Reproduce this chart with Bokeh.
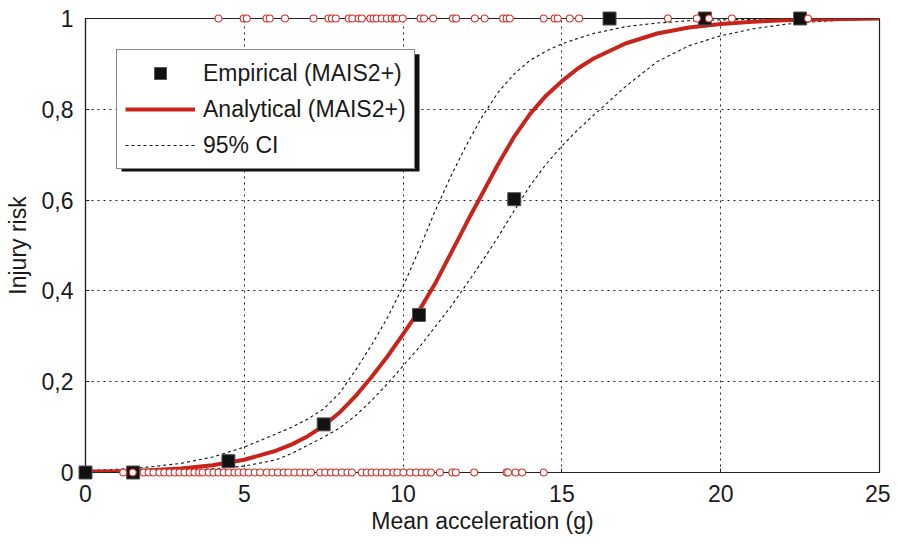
from bokeh.plotting import figure
from bokeh.models import Range1d, FixedTicker, Legend, LegendItem, BoxAnnotation
from bokeh.embed import file_html
from bokeh.resources import INLINE

# ---------------- data ----------------
emp_x = [0, 1.5, 4.5, 7.5, 10.5, 13.5, 16.5, 19.5, 22.5]
emp_y = [0.0, 0.0, 0.025, 0.106, 0.347, 0.602, 1.0, 1.0, 1.0]

curve_x = [0, 1, 2, 3, 4, 5, 6, 6.5, 7, 7.5, 8, 8.5, 9, 9.5, 10, 10.5, 11, 11.5, 12,
           12.5, 13, 13.5, 14, 14.5, 15, 15.5, 16, 17, 18, 19, 20, 21, 22, 23, 24, 25]
analytical = [0.002, 0.003, 0.005, 0.009, 0.016, 0.028, 0.048, 0.062, 0.08, 0.103,
              0.132, 0.168, 0.21, 0.255, 0.305, 0.356, 0.415, 0.482, 0.55, 0.615,
              0.68, 0.74, 0.79, 0.83, 0.862, 0.89, 0.912, 0.945, 0.967, 0.98, 0.988,
              0.993, 0.996, 0.998, 0.999, 1.0]
ci_upper = [0.004, 0.007, 0.012, 0.02, 0.034, 0.056, 0.085, 0.1, 0.118, 0.14, 0.175,
            0.225, 0.28, 0.34, 0.41, 0.49, 0.575, 0.652, 0.722, 0.785, 0.838, 0.878,
            0.908, 0.928, 0.944, 0.956, 0.967, 0.982, 0.99, 0.995, 0.997, 0.998,
            0.999, 0.9995, 1.0, 1.0]
ci_lower = [0.001, 0.002, 0.003, 0.005, 0.008, 0.014, 0.028, 0.042, 0.06, 0.078,
            0.098, 0.125, 0.158, 0.195, 0.235, 0.275, 0.32, 0.365, 0.415, 0.466,
            0.52, 0.577, 0.632, 0.679, 0.719, 0.755, 0.787, 0.85, 0.905, 0.94,
            0.962, 0.977, 0.987, 0.993, 0.997, 0.999]

injured_x = [4.19, 4.98, 5.08, 5.70, 5.80, 6.28, 7.18, 7.65, 7.76, 7.88, 8.29, 8.40,
             8.60, 8.70, 8.97, 9.07, 9.17, 9.33, 9.49, 9.64, 9.75, 9.80, 9.99, 10.55,
             10.66, 10.95, 11.57, 11.67, 12.26, 12.57, 13.15, 13.26, 13.36, 14.43,
             14.77, 14.87, 15.25, 15.54, 18.34, 19.25, 19.63, 20.35, 22.75]
uninjured_x = [1.19, 1.49, 1.83, 1.99, 2.14, 2.33, 2.48, 2.65, 2.81, 2.96, 3.12, 3.28,
               3.43, 3.58, 3.69, 3.88, 4.03, 4.19, 4.35, 4.51, 4.69, 4.82, 4.98, 5.14,
               5.33, 5.50, 5.71, 5.89, 6.06, 6.24, 6.39, 6.58, 6.76, 6.94, 7.10, 7.39,
               7.55, 7.73, 7.89, 8.07, 8.25, 8.39, 8.70, 8.86, 9.01, 9.17, 9.33, 9.49,
               9.70, 9.82, 10.01, 10.22, 10.41, 10.59, 10.76, 10.88, 11.16, 11.55,
               11.66, 12.24, 13.26, 13.31, 13.54, 13.75, 14.43]

x_ticks = [0, 5, 10, 15, 20, 25]
y_ticks = [0, 0.2, 0.4, 0.6, 0.8, 1.0]
y_tick_labels = ["0", "0,2", "0,4", "0,6", "0,8", "1"]

labels = ["Empirical (MAIS2+)", "Analytical (MAIS2+)", "95% CI"]
x_title = "Mean acceleration (g)"
y_title = "Injury risk"

# ---------------- figure ----------------
FONT = "Liberation Sans"
FS = "23px"
W, H = 890, 536
ML, MR, MT, MB = 85, 11, 18, 61

p = figure(width=W, height=H, x_range=Range1d(0, 25), y_range=Range1d(0, 1),
           output_backend="svg", toolbar_location=None,
           min_border_left=ML, min_border_right=MR, min_border_top=MT,
           min_border_bottom=MB)
p.background_fill_color = "white"
p.border_fill_color = "white"
p.outline_line_color = "#222222"
p.outline_line_width = 1.2

for ax in (p.xaxis[0], p.yaxis[0]):
    ax.axis_line_color = "#222222"
    ax.axis_line_width = 1.2
    ax.major_tick_in = 4
    ax.major_tick_out = 0
    ax.major_tick_line_color = "#222222"
    ax.minor_tick_line_color = None
    ax.major_label_text_font = FONT
    ax.major_label_text_font_size = FS
    ax.major_label_text_color = "#1a1a1a"
    ax.axis_label_text_font = FONT
    ax.axis_label_text_font_size = FS
    ax.axis_label_text_font_style = "normal"
    ax.axis_label_text_color = "#1a1a1a"

p.xaxis.ticker = FixedTicker(ticks=x_ticks)
p.yaxis.ticker = FixedTicker(ticks=y_ticks)
p.yaxis.major_label_overrides = {t: l for t, l in zip(y_ticks, y_tick_labels)}
p.xaxis.axis_label = x_title
p.yaxis.axis_label = y_title
p.xaxis.major_label_standoff = 12
p.xaxis.axis_label_standoff = 3
p.yaxis.major_label_standoff = 12
p.yaxis.axis_label_standoff = 8

p.xgrid.ticker = FixedTicker(ticks=x_ticks[1:-1])
p.ygrid.ticker = FixedTicker(ticks=y_ticks[1:-1])
for g in (p.xgrid[0], p.ygrid[0]):
    g.grid_line_color = "#222222"
    g.grid_line_width = 1
    g.grid_line_dash = "2 4"

# curves
r_up = p.line(curve_x, ci_upper, line_color="#111111", line_width=1.1, line_dash="3 3")
r_lo = p.line(curve_x, ci_lower, line_color="#111111", line_width=1.1, line_dash="3 3")
r_an = p.line(curve_x, analytical, line_color="#c8241c", line_width=4)

# empirical squares and case markers (drawn above the frame, not clipped)
r_emp = p.scatter(emp_x, emp_y, marker="square", size=13, fill_color="#111111",
                  line_color="#555555", line_width=1, level="overlay")
p.scatter(injured_x, [1.0] * len(injured_x), marker="circle", size=7,
          fill_color="white", line_color="#d0302a", line_width=1.1, level="overlay")
p.scatter(uninjured_x, [0.0] * len(uninjured_x), marker="circle", size=7,
          fill_color="white", line_color="#d0302a", line_width=1.1, level="overlay")

# legend with drop shadow
LEG_MARGIN, LEG_W, LEG_H, SH = 31, 298, 118, 5
fw, fh = W - ML - MR, H - MT - MB
def sx(px):
    return px / fw * 25
def sy(py):
    return 1 - py / fh
shadow = BoxAnnotation(left=sx(LEG_MARGIN + SH), right=sx(LEG_MARGIN + LEG_W + SH),
                       top=sy(LEG_MARGIN + SH), bottom=sy(LEG_MARGIN + LEG_H + SH),
                       fill_color="#111111", fill_alpha=1, line_color=None)
p.add_layout(shadow)

legend = Legend(items=[LegendItem(label=labels[0], renderers=[r_emp]),
                       LegendItem(label=labels[1], renderers=[r_an]),
                       LegendItem(label=labels[2], renderers=[r_up])],
                location="top_left", margin=LEG_MARGIN, padding=8, spacing=6,
                glyph_width=70, glyph_height=30, label_height=30, label_standoff=8,
                label_text_font=FONT, label_text_font_size=FS,
                label_text_color="#1a1a1a",
                border_line_color="#111111", border_line_width=1.5,
                background_fill_color="white", background_fill_alpha=1)
p.add_layout(legend, "center")

open("out.html", "w").write(file_html(p, INLINE))
